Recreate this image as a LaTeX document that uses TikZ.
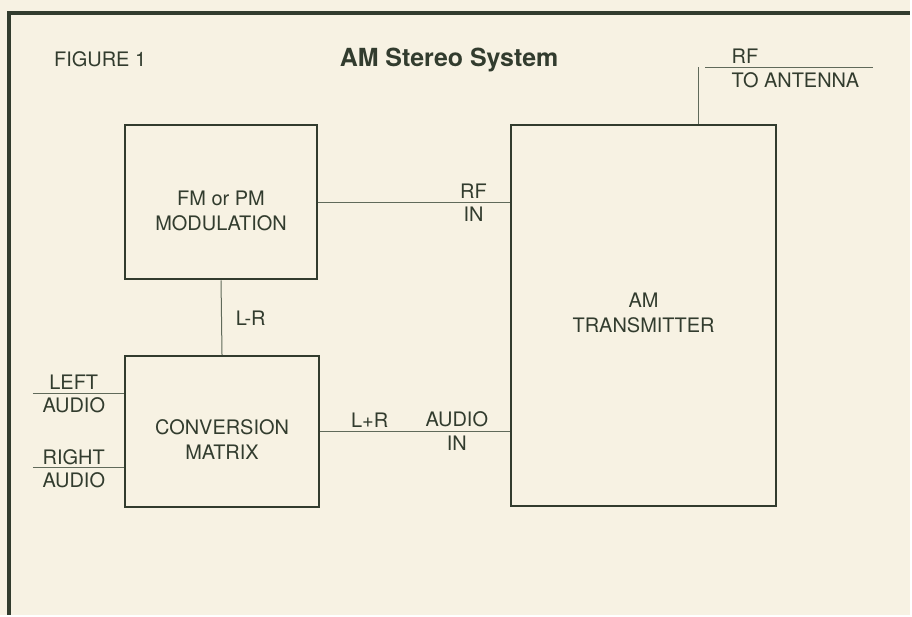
\documentclass[tikz,border=0pt]{standalone}
\usepackage{fontspec}
\setmainfont{TeX Gyre Heros}
\usetikzlibrary{positioning,calc}
\definecolor{cInk}  {RGB}{ 50, 60, 46}
\definecolor{cWire} {RGB}{ 96,106, 90}
\definecolor{cPaper}{RGB}{247,242,227}
\tikzset{
  blk/.style   = {draw=cInk, line width=2pt, inner sep=0pt},
  boxtxt/.style= {text=cInk, align=center, inner sep=0pt,
                  font=\fontsize{20}{25}\selectfont},
  wire/.style  = {draw=cWire, line width=1pt},
  lbl/.style   = {text=cInk, font=\fontsize{20}{24}\selectfont, inner sep=1pt},
  ttl/.style   = {text=cInk, font=\fontsize{25}{28}\selectfont\bfseries,
                  inner sep=0pt},
}

\begin{document}
\begin{tikzpicture}[x=1pt,y=-1pt]

  % paper and frame
  \fill[cPaper] (0,0) rectangle (912,616);
  \draw[cInk, line width=4pt] (9,616) -- (9,13) -- (912,13);

  \node[lbl, anchor=base west] (fig) at (53,67) {FIGURE 1};
  \node[ttl, anchor=base] (title) at (450,67) {AM Stereo System};

  %% ---------------- blocks ------------------------------------------
  \node[blk, minimum width=193pt, minimum height=155pt] (fm)   at (221.5,202.5) {};
  \node[blk, minimum width=195pt, minimum height=151pt] (conv) at (222.5,432.5) {};
  \node[blk, minimum width=266pt, minimum height=382pt] (tx)   at (645,316) {};

  \node[boxtxt] (fmTxt)   at ($(fm)+(0,9)$)   {FM or PM\\MODULATION};
  \node[boxtxt] (convTxt) at ($(conv)+(0,8)$) {CONVERSION\\MATRIX};
  \node[boxtxt] (txTxt)   at ($(tx)+(0,-2)$)  {AM\\TRANSMITTER};

  %% ---------------- connections -------------------------------------
  \draw[wire] (fm.east) -- (fm.east -| tx.west)
        node[lbl, pos=.81, above=2pt] {RF}
        node[lbl, pos=.81, below=3pt] {IN};
  \draw[wire] (fm.south) -- (conv.north)
        node[lbl, midway, right=13pt] {L-R};
  \draw[wire] (conv.east) -- (conv.east -| tx.west)
        node[lbl, pos=.26, above=3pt] {L+R}
        node[lbl, pos=.72, above=3pt] {AUDIO}
        node[lbl, pos=.72, below=3pt] {IN};

  % audio inputs
  \coordinate (lin) at (33,394);
  \coordinate (rin) at (33,469);
  \draw[wire] (lin) -- (lin -| conv.west)
        node[lbl, pos=.45, above=2pt] {LEFT}
        node[lbl, pos=.45, below=3pt] {AUDIO};
  \draw[wire] (rin) -- (rin -| conv.west)
        node[lbl, pos=.45, above=2pt] {RIGHT}
        node[lbl, pos=.45, below=3pt] {AUDIO};

  % antenna feed
  \coordinate (antTop) at (700,67);
  \coordinate (antL)   at (707,68);
  \coordinate (antR)   at (875,68);
  \draw[wire] (tx.north -| antTop) -- (antTop);
  \draw[wire] (antL) -- (antR);
  \node[lbl, anchor=south west] (rf)  at ($(antL)+(25,-3)$) {RF};
  \node[lbl, anchor=north west] (ant) at ($(antL)+(25,4)$)  {TO ANTENNA};

\end{tikzpicture}
\end{document}
